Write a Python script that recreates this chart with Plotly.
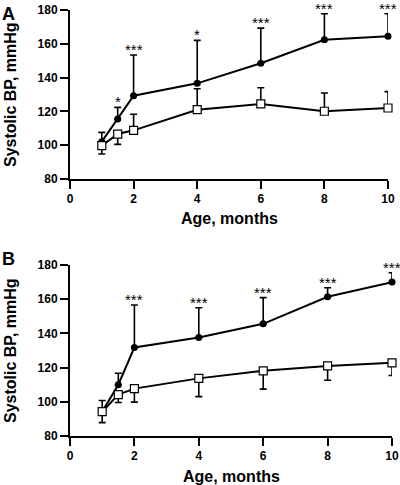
import plotly.graph_objects as go

# ---------------- data ----------------
age = [1, 1.5, 2, 4, 6, 8, 10]

# Panel A
a_hyp_mean = [102.1, 115.5, 129.3, 136.6, 148.5, 162.4, 164.4]
a_hyp_sd = [5.5, 6.9, 24.1, 25.4, 20.8, 15.4, 13.4]
a_ctl_mean = [99.7, 106.6, 108.8, 121.0, 124.4, 120.1, 122.0]
a_ctl_sd = [4.9, 6.1, 9.5, 12.4, 9.6, 10.8, 9.7]
a_ctl_dir = ["down", "down", "up", "up", "up", "up", "up"]
a_sig = ["", "*", "***", "*", "***", "***", "***"]

# Panel B
b_hyp_mean = [94.3, 110.0, 131.8, 137.6, 145.6, 161.4, 170.0]
b_hyp_sd = [6.5, 6.7, 24.8, 17.4, 15.3, 5.3, 5.5]
b_ctl_mean = [94.2, 104.2, 107.7, 113.7, 118.1, 121.0, 122.8]
b_ctl_sd = [6.4, 4.6, 7.9, 10.7, 10.7, 8.4, 7.4]
b_ctl_dir = ["down", "down", "down", "down", "down", "down", "down"]
b_sig = ["", "", "***", "***", "***", "***", "***"]

x_ticks = [0, 2, 4, 6, 8, 10]
y_ticks = [80, 100, 120, 140, 160, 180]
y_title = "Systolic BP, mmHg"
x_title = "Age, months"

FONT = "Liberation Sans, Arial, Helvetica, sans-serif"
W, H = 400, 485

fig = go.Figure()

panels = [
    dict(name="A", xa="x", ya="y", hyp=a_hyp_mean, hsd=a_hyp_sd, ctl=a_ctl_mean,
         csd=a_ctl_sd, cdir=a_ctl_dir, sig=a_sig,
         xdom=[70 / W, 388 / W], ydom=[1 - 179 / H, 1 - 10 / H],
         letter_y=1 - 2 / H, xt_y=1 - 219 / H),
    dict(name="B", xa="x2", ya="y2", hyp=b_hyp_mean, hsd=b_hyp_sd, ctl=b_ctl_mean,
         csd=b_ctl_sd, cdir=b_ctl_dir, sig=b_sig,
         xdom=[70 / W, 392 / W], ydom=[1 - 436 / H, 1 - 265 / H],
         letter_y=1 - 247 / H, xt_y=1 - 476 / H),
]

annotations = []
for p in panels:
    # hypertensive: upward error bars
    fig.add_trace(go.Scatter(
        x=age, y=p["hyp"], xaxis=p["xa"], yaxis=p["ya"], mode="lines+markers",
        line=dict(color="black", width=2),
        marker=dict(symbol="circle", size=7, color="black"),
        error_y=dict(type="data", symmetric=False, array=p["hsd"],
                     arrayminus=[0] * len(age), color="black", thickness=1.6, width=3.5),
        cliponaxis=False, showlegend=False))
    # control: open squares with one-sided error bars
    up = [s if d == "up" else 0 for s, d in zip(p["csd"], p["cdir"])]
    dn = [s if d == "down" else 0 for s, d in zip(p["csd"], p["cdir"])]
    fig.add_trace(go.Scatter(
        x=age, y=p["ctl"], xaxis=p["xa"], yaxis=p["ya"], mode="lines+markers",
        line=dict(color="black", width=2),
        marker=dict(symbol="square", size=8, color="white",
                    line=dict(color="black", width=1.2)),
        error_y=dict(type="data", symmetric=False, array=up, arrayminus=dn,
                     color="black", thickness=1.6, width=3.5),
        cliponaxis=False, showlegend=False))
    # significance stars
    for xv, m, s, lab in zip(age, p["hyp"], p["hsd"], p["sig"]):
        if lab:
            annotations.append(dict(
                x=xv, y=m + s, xref=p["xa"], yref=p["ya"], text=lab, showarrow=False,
                yanchor="bottom", xanchor="center", yshift=-5,
                font=dict(family=FONT, size=15, color="black")))
    # panel letter
    annotations.append(dict(
        x=0, y=p["letter_y"], xref="paper", yref="paper", text="<b>%s</b>" % p["name"],
        showarrow=False, xanchor="left", yanchor="top",
        font=dict(family=FONT, size=18, color="black")))
    # y title
    annotations.append(dict(
        x=0, y=(p["ydom"][0] + p["ydom"][1]) / 2, xref="paper", yref="paper",
        text="<b>%s</b>" % y_title, showarrow=False, textangle=-90,
        xanchor="left", yanchor="middle",
        font=dict(family=FONT, size=16, color="black")))
    # x title
    annotations.append(dict(
        x=(p["xdom"][0] + p["xdom"][1]) / 2, y=p["xt_y"], xref="paper", yref="paper",
        text="<b>%s</b>" % x_title, showarrow=False, xanchor="center", yanchor="middle",
        font=dict(family=FONT, size=16, color="black")))

axis_common = dict(showline=True, linecolor="black", linewidth=2, ticks="outside",
                   ticklen=8, tickwidth=2, tickcolor="black", showgrid=False,
                   zeroline=False, automargin=False,
                   tickfont=dict(family=FONT, size=12, color="black", weight="bold"))

layout_axes = {}
for i, p in enumerate(panels):
    sx = "" if i == 0 else str(i + 1)
    layout_axes["xaxis" + sx] = dict(domain=p["xdom"], range=[0, 10], tickvals=x_ticks,
                                    anchor="y" + sx, fixedrange=True, **axis_common)
    layout_axes["yaxis" + sx] = dict(domain=p["ydom"], range=[80, 180], tickvals=y_ticks,
                                    anchor="x" + sx, fixedrange=True, **axis_common)

fig.update_layout(width=W, height=H,
                  margin=dict(l=0, r=0, t=0, b=0, pad=0, autoexpand=False),
                  plot_bgcolor="white", paper_bgcolor="white", hovermode=False,
                  annotations=annotations, **layout_axes)

fig.write_html("out.html",
               config={"displayModeBar": False, "staticPlot": True},
               post_script="document.body.style.margin='0';"
                           "document.body.style.overflow='hidden';")
